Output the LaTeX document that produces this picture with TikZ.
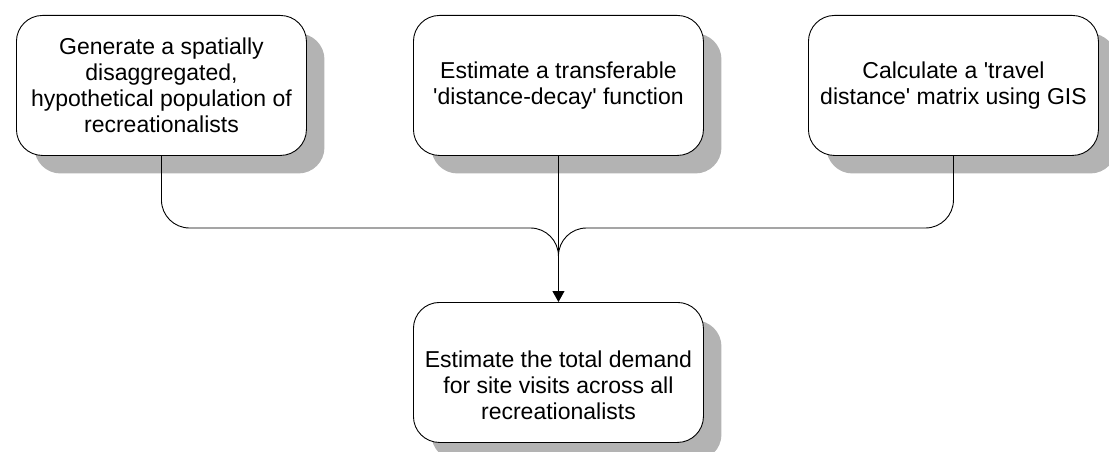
\documentclass[tikz,border=0pt]{standalone}
\usepackage{fontspec}
\setmainfont{Liberation Sans}
\usetikzlibrary{arrows.meta,shadows}
\definecolor{shadowgray}{HTML}{B3B3B3}
\newcommand{\sq}{\textquotesingle}
\tikzset{
  box/.style={draw=black, line width=0.9pt, fill=white, rounded corners=26pt,
    minimum width=290pt, minimum height=140pt, inner sep=0pt, anchor=north west,
    drop shadow={shadow xshift=18pt, shadow yshift=-18pt, fill=shadowgray, opacity=1}},
  lbl/.style={align=center, font=\fontsize{23pt}{26pt}\selectfont, inner sep=0pt},
  conn/.style={line width=0.9pt, rounded corners=28pt},
}
\begin{document}
\begin{tikzpicture}[x=1pt,y=-1pt]
\useasboundingbox (0,0) rectangle (1109,452);
\node[box] (b1) at (16,15) {};
\node[box] (b2) at (413,15) {};
\node[box] (b3) at (808,15) {};
\node[box] (b4) at (413,302) {};
\node[lbl] (t1) at (b1.center) {Generate a spatially\\disaggregated,\\hypothetical population of\\recreationalists};
\node[lbl] (t2) at (b2.center) {Estimate a transferable\\\sq distance-decay\sq{} function};
\node[lbl] (t3) at (b3.center) {Calculate a \sq travel\\distance\sq{} matrix using GIS};
\node[lbl] (t4) at ([yshift=-13pt]b4.center) {Estimate the total demand\\for site visits across all\\recreationalists};
\coordinate (j) at (b2.south |- 0,258);
\coordinate (h) at (b2.south |- 0,228);
\draw[conn] (b1.south) |- (h) -- (j);
\draw[conn] (b3.south) |- (h) -- (j);
\draw[line width=0.9pt, -{Triangle[length=11pt,width=12pt]}] (b2.south) -- (b4.north);
\end{tikzpicture}
\end{document}
